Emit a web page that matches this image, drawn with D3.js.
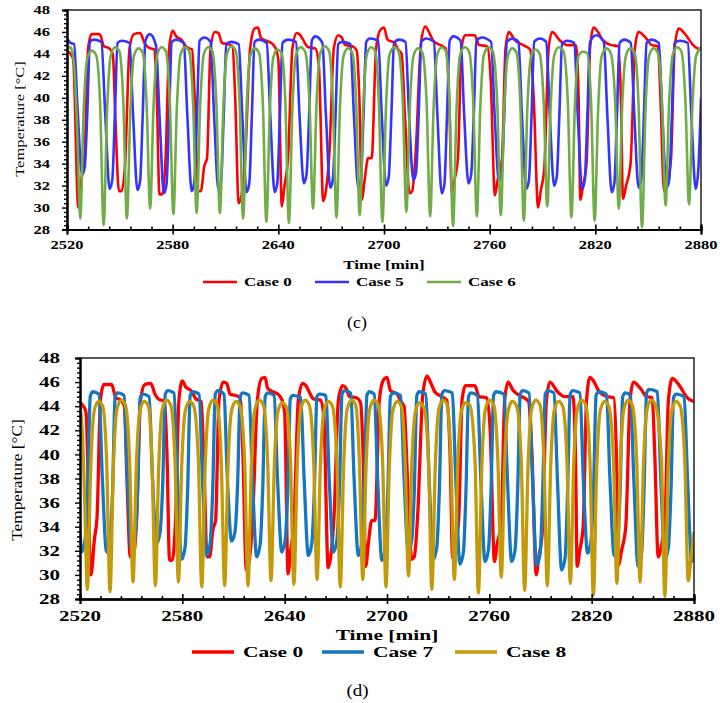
<!DOCTYPE html>
<html><head><meta charset="utf-8">
<script src="https://cdn.jsdelivr.net/npm/d3@7"></script>
<style>body{margin:0;background:#fff}</style>
</head><body>
<svg id="chart" width="724" height="703"></svg>
<script>
// ---------- data ----------
const xTickLabels = [2520, 2580, 2640, 2700, 2760, 2820, 2880];
const yTickLabels = [28, 30, 32, 34, 36, 38, 40, 42, 44, 46, 48];
const xTitle = "Time [min]";
const yTitle = "Temperature [\u00B0C]";

// Case 0 (shared by both panels): [time min, temperature °C]
const case0 = [[2520,44.3],[2522,44.0],[2523.5,43.5],[2526.4,30.0],[2528.5,33.0],[2530,34.8],[2532,44.5],[2534,45.8],[2538.5,45.8],[2541,44.7],[2544,44.5],[2546,44.0],[2547.5,38],[2549.5,31.5],[2551,31.5],[2553,34],[2555.5,44.5],[2558,45.8],[2561.5,45.9],[2564,45.0],[2566,44.6],[2569.5,44.4],[2571,40],[2572.5,31.2],[2574,31.2],[2576,34.5],[2578,44.5],[2580,46.1],[2582,45.6],[2585,45.3],[2588,44.6],[2591,44.4],[2592.5,40],[2594.5,31.5],[2596,31.5],[2598,33.8],[2599.5,34.5],[2601.5,44.5],[2604,46.0],[2606,45.9],[2608,45.0],[2611,44.9],[2614,44.7],[2615.5,40],[2617.5,30.4],[2619,31],[2621,34],[2624,44.5],[2626.5,46.3],[2628.5,46.4],[2630,45.5],[2633,45.2],[2636,45.0],[2638.5,44.5],[2640,43.5],[2642,30.1],[2643.5,32],[2645.5,34.5],[2648,44.5],[2650.5,45.9],[2652.5,45.7],[2654,45.3],[2657,44.6],[2661,44.5],[2663,43],[2665.5,30.6],[2667,31.5],[2669,35],[2671.5,44.5],[2674,45.7],[2676,45.5],[2678,44.8],[2682,44.7],[2684.5,44.3],[2686,40],[2687.5,30.7],[2689,32.5],[2691,34.5],[2693,34.5],[2695.5,44.5],[2698,46.2],[2700,46.4],[2702,45.3],[2706,45.0],[2708,44.4],[2710,44],[2712,38],[2714.5,31.3],[2716,31.5],[2718,35],[2721,45],[2723.5,46.5],[2725.5,46.0],[2728,45.2],[2732,44.8],[2735,44.5],[2737,40],[2738.5,31.4],[2740,32.5],[2742,34.5],[2744,44.5],[2746,45.7],[2751.5,45.7],[2754,44.8],[2758.5,44.7],[2760.5,42],[2763,31.1],[2764.5,32.5],[2767,34.4],[2769,44.5],[2771,46.0],[2774,45.3],[2779,44.8],[2783,44.4],[2785,40],[2787.5,30.0],[2789,31.5],[2791,33.5],[2793.5,44.5],[2795.5,46.0],[2800,45.2],[2804,44.8],[2809,44.8],[2810.5,40],[2811.5,30.7],[2813,32],[2815,34],[2817,44.5],[2819,46.4],[2821.5,46.0],[2824,45.3],[2829,44.8],[2833,44.7],[2834.5,40],[2835.7,30.8],[2837.5,32],[2840,34],[2842.5,44.5],[2844.5,46.0],[2849,45.4],[2852,44.8],[2855.5,44.7],[2857,40],[2859,31.5],[2861,32.5],[2863,34.5],[2865,44.5],[2867.3,46.3],[2871.5,45.7],[2875.5,44.8],[2878,44.5],[2880,44.4]];

// Case 5 (panel c)
const case5 = [[2520,45.4],[2522,45.0],[2524,44.9],[2526,39.0],[2528.5,33.0],
[2530,33.6],[2531.5,38.5],[2533,45.1],[2535,45.3],[2539.5,45.1],[2541.7,38.5],[2544.2,31.7],
[2545.7,32.5],[2547.2,38.5],[2548.7,45.0],[2551,45.2],[2555.5,45.0],[2557.5,38.5],[2560,31.6],
[2561.5,32.4],[2563,38.5],[2564.5,45.2],[2567,45.8],[2570.5,44.8],[2572.5,38.5],[2575,31.3],
[2576.5,32.1],[2578,38.5],[2579.5,45.1],[2582,45.3],[2586.3,45.0],[2588.3,38.5],[2590.8,31.5],
[2592.3,32.3],[2593.8,38.5],[2595.3,45.2],[2598,45.5],[2601.5,45.1],[2603.5,38.5],[2606,31.6],
[2607.5,32.4],[2609,38.5],[2610.5,44.9],[2613,45.1],[2617.5,44.9],[2619.5,38.5],[2622,31.4],
[2623.5,32.2],[2625,38.5],[2626.5,45.1],[2629,45.3],[2633.4,45.0],[2635.4,38.5],[2637.9,31.4],
[2639.4,32.2],[2640.9,38.5],[2642.4,45.0],[2645.5,45.3],[2650,45.1],[2652,38.5],[2654.5,32.2],
[2656,33.0],[2657.5,38.5],[2659,45.2],[2661,45.6],[2665,45.0],[2667,38.5],[2669.5,31.8],
[2671,32.6],[2672.5,38.5],[2674,44.9],[2676,45.1],[2680.9,44.9],[2682.9,38.5],[2685.4,31.8],
[2686.9,32.6],[2688.4,38.5],[2689.9,45.1],[2692,45.4],[2696.7,45.2],[2698.7,38.5],[2701.2,32.0],
[2702.7,32.8],[2704.2,38.5],[2705.7,45.0],[2708.5,45.3],[2712.2,45.1],[2714.2,38.5],[2716.7,32.5],
[2718.2,33.2],[2719.7,38.5],[2721.2,45.1],[2724,45.4],[2728.3,45.1],[2730.3,38.5],[2732.8,31.3],
[2734.3,32.1],[2735.8,38.5],[2737.3,45.2],[2739.5,45.6],[2743.5,45.2],[2745.5,38.5],[2748,32.2],
[2749.5,33.0],[2751,38.5],[2752.5,45.2],[2755.5,45.5],[2760.8,45.1],[2762.8,38.5],[2765.3,32.4],
[2766.8,33.1],[2768.3,38.5],[2769.8,45.1],[2773,45.4],[2776.3,45.1],[2778.3,38.5],[2780.8,31.7],
[2782.3,32.5],[2783.8,38.5],[2785.3,45.1],[2788.5,45.4],[2792.1,45.1],[2794.1,38.5],[2796.6,32.0],
[2798.1,32.8],[2799.6,38.5],[2801.1,44.9],[2804,45.2],[2808,45.0],[2810,38.5],[2812.5,31.7],
[2814,32.5],[2815.5,38.5],[2817,45.1],[2820.5,45.7],[2824.8,45.1],[2826.8,38.5],[2829.3,31.4],
[2830.8,32.2],[2832.3,38.5],[2833.8,45.0],[2836.5,45.3],[2840.1,45.0],[2842.1,38.5],[2844.6,31.8],
[2846.1,32.6],[2847.6,38.5],[2849.1,45.0],[2852,45.3],[2856,45.0],[2858,38.5],[2860.5,31.8],
[2862,32.6],[2863.5,38.5],[2865,45.0],[2868,45.2],[2872.5,45.0],[2874.5,38.5],[2877,31.7],
[2878.5,33.5],[2880,39.9]];

// Case 6 (panel c)
const case6 = [[2520,44.5],[2522,44.6],[2524,43.0],[2525.8,37],[2527.5,29.0],
[2529.5,39],[2531.5,43.6],[2534,44.3],[2536.5,43.9],[2538.8,39.5],[2540.8,28.4],
[2542.8,39],[2544.8,43.8],[2547.3,44.6],[2549.8,44.2],[2552,39.5],[2554,29.0],
[2556,39],[2558,43.8],[2560.5,44.5],[2563,44.1],[2565.2,39.5],[2567.2,29.9],
[2569.2,39.5],[2571.2,43.9],[2573.7,44.6],[2576.2,44.2],[2578.4,39.5],[2580.4,29.4],
[2582.4,39.2],[2584.4,43.9],[2586.9,44.6],[2589.4,44.2],[2591.6,39.5],[2593.6,29.5],
[2595.6,39.2],[2597.6,43.9],[2600.1,44.6],[2602.6,44.2],[2604.8,39.5],[2606.8,29.5],
[2608.8,39.2],[2610.8,44.0],[2613.3,44.7],[2615.8,44.3],[2618,39.5],[2620,29.0],
[2622,39],[2624,43.8],[2626.5,44.5],[2629,44.1],[2631.2,39.5],[2633.2,28.7],
[2635.2,39],[2637.2,43.7],[2639.5,44.4],[2642,44.0],[2644,39.5],[2646,28.6],
[2648,39],[2650,43.9],[2652.6,44.6],[2655.2,44.2],[2657.7,39.5],[2659.7,29.9],
[2661.7,39.5],[2663.7,44.0],[2666.2,44.7],[2668.7,44.3],[2671,39.5],[2673,29.1],
[2675,39.2],[2677,43.8],[2679.5,44.5],[2682,44.1],[2684.2,39.5],[2686.2,29.3],
[2688.2,39.2],[2690.2,43.9],[2692.6,44.6],[2695.1,44.2],[2697.1,39.5],[2699.1,28.7],
[2701.1,39],[2703.1,43.9],[2705.8,44.6],[2708.3,44.2],[2710.7,39.5],[2712.7,29.6],
[2714.7,39.3],[2716.7,43.8],[2719.3,44.5],[2721.8,44.1],[2724.2,39.5],[2726.2,29.2],
[2728.2,39.2],[2730.2,43.9],[2732.7,44.6],[2735.2,44.2],[2737.2,39.5],[2739.2,28.3],
[2741.2,39],[2743.2,43.9],[2745.8,44.6],[2748.3,44.2],[2750.7,39.5],[2752.7,29.2],
[2754.7,39.2],[2756.7,43.9],[2759.3,44.6],[2761.8,44.2],[2764.3,39.5],[2766.3,29.3],
[2768.3,39.2],[2770.3,43.8],[2772.8,44.5],[2775.3,44.1],[2777.4,39.5],[2779.4,28.8],
[2781.4,39],[2783.4,43.7],[2785.9,44.4],[2788.4,44.0],[2790.7,39.5],[2792.7,30.1],
[2794.7,39.5],[2796.7,43.9],[2799.3,44.6],[2801.8,44.3],[2804.4,39.5],[2806.4,29.1],
[2808.4,39.3],[2810.4,43.8],[2812.8,44.2],[2815.3,44.1],[2817.6,39.5],[2819.6,28.8],
[2821.6,39],[2823.6,43.8],[2826.2,44.5],[2828.7,44.1],[2831.3,39.5],[2833.3,29.9],
[2835.3,39.5],[2837.3,43.8],[2839.8,44.5],[2842.3,44.1],[2844.5,39.5],[2846.5,28.2],
[2848.5,39],[2850.5,43.8],[2853,44.5],[2855.5,44.1],[2857.9,39.5],[2859.9,30.2],
[2861.9,39.5],[2863.9,43.9],[2866.4,44.6],[2868.9,44.2],[2871.2,39.5],[2873.2,30.3],
[2875.2,39.5],[2877.2,43.8],[2880,44.6]];

// Case 7 (panel d)
const case7 = [[2520,33.5],[2521,31.9],
[2523,33],[2524.5,37],[2526,44.8],[2527.5,45.2],[2531.1,45.0],[2533.1,38],[2535.6,31.9],
[2537.6,32.9],[2539.1,37],[2540.6,44.8],[2542.1,45.1],[2545.8,44.9],[2547.8,38],[2550.3,32.0],
[2552.3,33],[2553.8,37],[2555.3,44.7],[2556.8,45.0],[2560.5,44.8],[2562.5,38],[2565,32.6],
[2567,33.6],[2568.5,37.5],[2570,45.0],[2571.5,45.3],[2575.1,45.1],[2577.1,38],[2579.6,31.3],
[2581.6,32.3],[2583.1,37],[2584.6,44.9],[2586.1,45.2],[2589.8,45.0],[2591.8,38],[2594.3,31.6],
[2596.3,32.6],[2597.8,37],[2599.3,45.0],[2600.8,45.3],[2604.4,45.0],[2606.4,38],[2608.9,32.8],
[2610.9,33.6],[2612.4,37.5],[2613.9,44.8],[2615.4,45.1],[2619.1,44.9],[2621.1,38],[2623.6,31.5],
[2625.6,32.5],[2627.1,37],[2628.6,44.8],[2630.1,45.1],[2633.8,44.9],[2635.8,38],[2638.3,31.9],
[2640.3,32.9],[2641.8,37],[2643.3,44.6],[2644.8,44.9],[2649.4,44.7],[2651.4,38],[2653.9,31.6],
[2655.9,32.6],[2657.4,37],[2658.9,44.8],[2660.4,45.0],[2664.1,44.9],[2666.1,38],[2668.6,31.9],
[2670.6,32.9],[2672.1,37],[2673.6,45.0],[2675.1,45.3],[2678.7,45.1],[2680.7,38],[2683.2,31.6],
[2685.2,32.6],[2686.7,37],[2688.2,44.9],[2689.7,45.2],[2692.5,45.0],[2694.5,38],[2697,31.2],
[2699,32.2],[2700.5,37],[2702,44.8],[2703.5,45.1],[2708,44.9],[2710,38],[2712.5,31.9],
[2714.5,32.9],[2716,37],[2717.5,44.9],[2719,45.2],[2722.7,45.0],[2724.7,38],[2727.2,31.3],
[2729.2,32.3],[2730.7,37],[2732.2,45.0],[2733.7,45.3],[2738.3,45.1],[2740.3,38],[2742.8,30.9],
[2744.8,31.9],[2746.3,37],[2747.8,44.8],[2749.3,45.1],[2753,44.9],[2755,38],[2757.5,31.1],
[2759.5,32.1],[2761,37],[2762.5,44.9],[2764,45.2],[2768.6,45.0],[2770.6,38],[2773.1,31.1],
[2775.1,32.1],[2776.6,37],[2778.1,45.0],[2779.6,45.3],[2783.3,45.1],[2785.3,38],[2787.8,30.8],
[2789.8,31.8],[2791.3,37],[2792.8,45.0],[2794.3,45.3],[2797.9,45.1],[2799.9,38],[2802.4,30.4],
[2804.4,31.4],[2805.9,37],[2807.4,45.0],[2808.9,45.3],[2813.1,45.1],[2815.1,38],[2817.6,31.8],
[2819.6,32.8],[2821.1,37],[2822.6,44.9],[2824.1,45.2],[2828.7,45.0],[2830.7,38],[2833.2,31.6],
[2835.2,32.6],[2836.7,37],[2838.2,44.8],[2839.7,45.1],[2842.7,44.9],[2844.7,38],[2847.2,30.7],
[2849.2,31.7],[2850.7,37],[2852.2,45.1],[2853.7,45.4],[2858.5,45.2],[2860.5,38],[2863,31.3],
[2865,32.3],[2866.5,37],[2868,44.7],[2869.5,45.0],[2874.2,44.8],[2876.2,38],[2878.7,31.1],
[2880,32.5]];

// Case 8 (panel d)
const case8 = [[2520,44.0],[2521.5,41.5],[2522.8,36],[2524.3,28.8],
[2526.3,39],[2528.3,43.6],[2530.8,44.4],[2533.3,44.0],[2535.6,39.5],[2537.6,28.6],
[2539.6,39],[2541.6,43.7],[2544.1,44.5],[2546.6,44.1],[2549.1,39.5],[2551.1,29.4],
[2553.1,39.3],[2555.1,43.6],[2557.6,44.4],[2560.1,44.0],[2562.2,39.5],[2564.2,29.1],
[2566.2,39.2],[2568.2,43.7],[2570.7,44.5],[2573.2,44.1],[2575.7,39.5],[2577.7,29.4],
[2579.7,39.3],[2581.7,43.6],[2584.2,44.4],[2586.7,44.0],[2589.4,39.5],[2591.4,29.0],
[2593.4,39.1],[2595.4,43.7],[2597.9,44.5],[2600.4,44.1],[2602.8,39.5],[2604.8,29.1],
[2606.8,39.1],[2608.8,43.6],[2611.3,44.4],[2613.8,44.0],[2616.5,39.5],[2618.5,29.1],
[2620.5,39.1],[2622.5,43.7],[2625,44.5],[2627.5,44.1],[2630,39.5],[2632,29.5],
[2634,39.3],[2636,43.5],[2638.5,44.3],[2641,43.9],[2643.4,39.5],[2645.4,29.2],
[2647.4,39.2],[2649.4,43.7],[2651.9,44.5],[2654.4,44.1],[2657,39.5],[2659,29.6],
[2661,39.3],[2663,43.6],[2665.5,44.4],[2668,44.0],[2670.6,39.5],[2672.6,29.0],
[2674.6,39.1],[2676.6,43.7],[2679.1,44.5],[2681.6,44.1],[2683.8,39.5],[2685.8,29.6],
[2687.8,39.3],[2689.8,43.7],[2692.3,44.5],[2694.8,44.1],[2697.4,39.5],[2699.4,29.0],
[2701.4,39.1],[2703.4,43.6],[2705.9,44.4],[2708.4,44.0],[2710.6,39.5],[2712.6,29.9],
[2714.6,39.4],[2716.6,43.5],[2719.1,44.3],[2721.6,43.9],[2724.3,39.5],[2726.3,28.8],
[2728.3,39],[2730.3,43.7],[2732.8,44.5],[2735.3,44.1],[2737.5,39.5],[2739.5,29.6],
[2741.5,39.2],[2743.5,43.5],[2746,44.3],[2748.5,44.1],[2751.6,39.5],[2753.6,28.5],
[2755.6,39],[2757.6,43.7],[2760.1,44.5],[2762.6,44.1],[2765,39.5],[2767,29.8],
[2769,39.4],[2771,43.6],[2773.5,44.4],[2776,44.0],[2778.7,39.5],[2780.7,28.7],
[2782.7,39],[2784.7,43.7],[2787.2,44.5],[2789.7,44.1],[2792,39.5],[2794,29.1],
[2796,39.1],[2798,43.6],[2800.5,44.4],[2803,44.0],[2805.5,39.5],[2807.5,29.3],
[2809.5,39.2],[2811.5,43.7],[2814,44.5],[2816.5,44.1],[2819,39.5],[2821,28.3],
[2823,39],[2825,43.6],[2827.5,44.4],[2830,44.0],[2832.8,39.5],[2834.8,29.3],
[2836.8,39.2],[2838.8,43.7],[2841.3,44.5],[2843.8,44.1],[2846.4,39.5],[2848.4,29.4],
[2850.4,39.2],[2852.4,43.7],[2854.9,44.5],[2857.4,44.1],[2860.9,39.5],[2862.9,28.2],
[2864.9,39],[2866.9,43.6],[2869.4,44.4],[2871.9,44.0],[2874.6,39.5],[2876.6,29.5],
[2878.3,31.5],[2880,33.5]];

const panelCSeries = [
  {name: "Case 0", data: case0, color: "#ff0000"},
  {name: "Case 5", data: case5, color: "#3434ff"},
  {name: "Case 6", data: case6, color: "#70ad47"}
];
const panelDSeries = [
  {name: "Case 0", data: case0, color: "#ff0000"},
  {name: "Case 7", data: case7, color: "#1677c1"},
  {name: "Case 8", data: case8, color: "#c39a0a"}
];

// ---------- drawing ----------
const svg = d3.select("#chart");
svg.append("rect").attr("width", 724).attr("height", 703).attr("fill", "#fff");
const SERIF = "'Liberation Serif','Times New Roman',serif";

function stretchedText(g, str, x, y, size, sx, bold, anchor) {
  return g.append("text")
    .attr("transform", `translate(${x},${y}) scale(${sx},1)`)
    .attr("text-anchor", anchor || "middle")
    .style("font-family", SERIF)
    .style("font-size", size + "px")
    .style("font-weight", bold ? "bold" : "normal")
    .attr("fill", "#000")
    .text(str);
}

function drawPanel(cfg) {
  const g = svg.append("g");
  const x = d3.scaleLinear().domain([2520, 2880]).range([cfg.left, cfg.right]);
  const y = d3.scaleLinear().domain([28, 48]).range([cfg.bottom, cfg.top]);
  const clipId = "clip" + cfg.label;
  g.append("clipPath").attr("id", clipId).append("rect")
    .attr("x", cfg.left).attr("y", cfg.top - 4)
    .attr("width", cfg.right - cfg.left).attr("height", cfg.bottom - cfg.top + 4);

  // series
  const line = d3.line().x(d => x(d[0])).y(d => y(d[1])).curve(d3.curveMonotoneX);
  const lg = g.append("g").attr("clip-path", `url(#${clipId})`);
  cfg.series.forEach(s => {
    lg.append("path").attr("d", line(s.data)).attr("fill", "none")
      .attr("stroke", s.color).attr("stroke-width", cfg.lw)
      .attr("stroke-linejoin", "round").attr("stroke-linecap", "round");
  });

  // frame (top and right)
  g.append("path")
    .attr("d", `M${cfg.left},${cfg.top}H${cfg.right}V${cfg.bottom}`)
    .attr("fill", "none").attr("stroke", "#222").attr("stroke-width", 1.5);

  const xMinor = d3.range(2520, 2881, 12).filter(v => (v - 2520) % 60 !== 0);
  const yMinor = d3.range(28, 48.001, 0.4).filter(v => Math.abs(v / 2 - Math.round(v / 2)) > 0.01);

  // x axis
  const xa = g.append("g").attr("transform", `translate(0,${cfg.bottom})`);
  xa.call(d3.axisBottom(x).tickValues(xTickLabels).tickSize(5).tickFormat(""));
  const xa2 = g.append("g").attr("transform", `translate(0,${cfg.bottom})`);
  xa2.call(d3.axisTop(x).tickValues(xTickLabels).tickSize(5).tickFormat(""));
  const xa3 = g.append("g").attr("transform", `translate(0,${cfg.bottom})`);
  xa3.call(d3.axisTop(x).tickValues(xMinor).tickSize(3).tickFormat(""));
  [xa, xa2, xa3].forEach(a => {
    a.select(".domain").attr("stroke", "#000").attr("stroke-width", 2);
    a.selectAll(".tick line").attr("stroke", "#000").attr("stroke-width", 1.6);
  });
  xTickLabels.forEach(v => stretchedText(g, String(v), x(v), cfg.bottom + cfg.xLabDy, cfg.tickSize, cfg.tickSx, true));

  // y axis
  const ya = g.append("g").attr("transform", `translate(${cfg.left},0)`);
  ya.call(d3.axisLeft(y).tickValues(yTickLabels).tickSize(5).tickFormat(""));
  const ya2 = g.append("g").attr("transform", `translate(${cfg.left},0)`);
  ya2.call(d3.axisLeft(y).tickValues(yMinor).tickSize(3).tickFormat(""));
  [ya, ya2].forEach(a => {
    a.select(".domain").attr("stroke", "#000").attr("stroke-width", 2);
    a.selectAll(".tick line").attr("stroke", "#000").attr("stroke-width", 1.4);
  });
  yTickLabels.forEach(v => stretchedText(g, String(v), cfg.left - cfg.yLabGap, y(v) + cfg.tickSize * 0.34, cfg.tickSize, cfg.tickSx, true, "end"));

  // axis titles
  g.append("text")
    .attr("transform", `translate(${cfg.yTitleX},${cfg.yTitleY}) rotate(-90) scale(${cfg.yTitleSx},1)`)
    .attr("text-anchor", "middle")
    .style("font-family", SERIF).style("font-size", cfg.yTitleSize + "px")
    .text(yTitle);
  stretchedText(g, xTitle, (cfg.left + cfg.right) / 2, cfg.xTitleY, cfg.titleSize, cfg.titleSx, true);

  // legend
  cfg.series.forEach((s, i) => {
    const lx = cfg.legX[i];
    g.append("line").attr("x1", lx).attr("x2", lx + cfg.legLine)
      .attr("y1", cfg.legY).attr("y2", cfg.legY)
      .attr("stroke", s.color).attr("stroke-width", cfg.lw);
    stretchedText(g, s.name, lx + cfg.legLine + cfg.legGap, cfg.legY + cfg.titleSize * 0.34, cfg.titleSize, cfg.titleSx, true, "start");
  });

  // caption
  stretchedText(g, `(${cfg.label})`, cfg.capX, cfg.capY, cfg.capSize, 1.12, false);
}

drawPanel({
  label: "c", series: panelCSeries,
  left: 67, right: 701, top: 10, bottom: 229.5, lw: 2.6,
  tickSize: 13, tickSx: 1.27, xLabDy: 19.5, yLabGap: 17,
  yTitleX: 24, yTitleY: 119, yTitleSize: 13.5, yTitleSx: 1.22,
  titleSize: 13, titleSx: 1.31, xTitleY: 269,
  legX: [203, 315, 427], legY: 282, legLine: 34, legGap: 7,
  capX: 357, capY: 328, capSize: 16
});
drawPanel({
  label: "d", series: panelDSeries,
  left: 80, right: 694, top: 358, bottom: 599, lw: 3.3,
  tickSize: 15, tickSx: 1.4, xLabDy: 22, yLabGap: 20,
  yTitleX: 22, yTitleY: 480, yTitleSize: 15.5, yTitleSx: 1.12,
  titleSize: 15, titleSx: 1.43, xTitleY: 640,
  legX: [192, 322, 455], legY: 652, legLine: 42, legGap: 9,
  capX: 357.5, capY: 696, capSize: 17
});
</script>
</body></html>
